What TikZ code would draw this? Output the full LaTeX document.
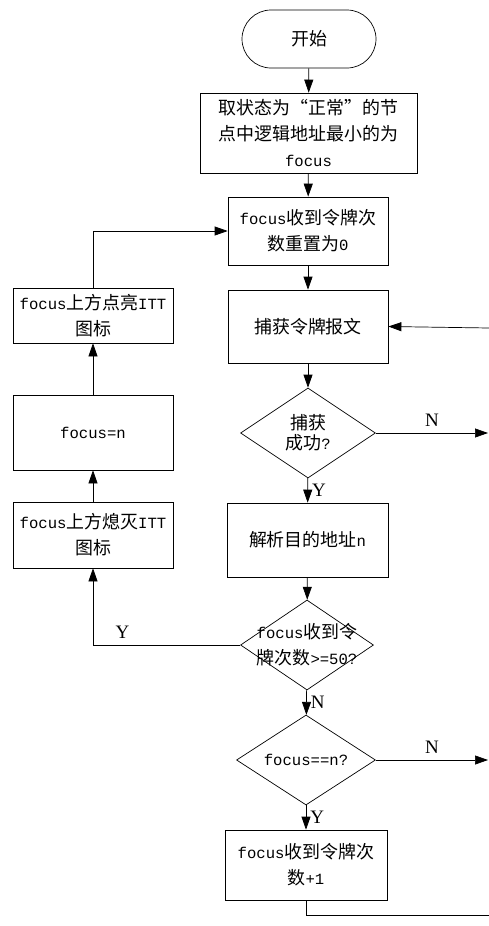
\documentclass[tikz,border=0pt]{standalone}
\usepackage{fontspec}
\setmainfont{Liberation Mono}
\newfontfamily\cjkf[Scale=1.15]{Noto Sans CJK SC}
\newfontfamily\lblf{Liberation Serif}
\newcommand{\zh}[1]{{\cjkf #1}}
\usetikzlibrary{shapes.geometric,arrows.meta}
\begin{document}
\begin{tikzpicture}[x=1pt,y=-1pt,
  font=\fontsize{15.6}{26}\selectfont,
  line width=0.7pt,
  box/.style={draw, rectangle, align=center, inner sep=0pt, minimum width=#1},
  box/.default=160pt,
  dia/.style={draw, diamond, inner sep=0pt, minimum width=#1, minimum height=90pt},
  dtext/.style={align=center, inner sep=0pt},
  arr/.style={-{Triangle[length=13pt,width=9pt]}},
  lbl/.style={font=\lblf\fontsize{19}{20}\selectfont, inner sep=0pt}
]
\useasboundingbox (0,0) rectangle (489,926);

% main column
\node[draw, rounded corners=29pt, minimum width=134pt, minimum height=58pt, inner sep=0pt] (start) at (309,39) {\zh{开始}};
\node[box=217pt, minimum height=80pt] (b2) at (308.5,133) {\zh{取状态为“正常”的节}\\\zh{点中逻辑地址最小的为}\\focus};
\node[box, minimum height=68pt] (b3) at (308,231) {focus\zh{收到令牌次}\\\zh{数重置为}0};
\node[box, minimum height=73pt] (b4) at (308,326.5) {\zh{捕获令牌报文}};
\node[dia=135pt] (d1) at (308,433) {};
\node[dtext] (d1t) at (d1) {\zh{捕获}\\[-6pt]\zh{成功}?};
\node[box=161pt, minimum height=74pt] (b5) at (307.5,540) {\zh{解析目的地址}n};
\node[dia=133pt] (d2) at (307,645) {};
\node[dtext] (d2t) at (d2) {focus\zh{收到令}\\\zh{牌次数}>=50?};
\node[dia=139pt] (d3) at (306,760) {};
\node[dtext] (d3t) at (d3) {focus==n?};
\node[box=162pt, minimum height=70pt] (b7) at (306,865) {focus\zh{收到令牌次}\\\zh{数}+1};

% left column
\node[box, minimum height=55pt] (l1) at (93,315.5) {focus\zh{上方点亮}ITT\\\zh{图标}};
\node[box, minimum height=75pt] (l2) at (93,432.5) {focus=n};
\node[box, minimum height=66pt] (l3) at (93,535) {focus\zh{上方熄灭}ITT\\\zh{图标}};

% free ends
\coordinate (inR) at (489,328);
\coordinate (n1) at (488,433);
\coordinate (n3) at (488,760);
\coordinate (bt) at (306,915);
\coordinate (btR) at (489,915);

% connectors
\draw[arr] (start) -- (b2);
\draw[arr] (b2) -- (b3);
\draw[arr] (b3) -- (b4);
\draw[arr] (b4) -- (d1);
\draw[arr] (d1) -- (b5) node[lbl, pos=0.5, right=4pt] (yl1) {Y};
\draw[arr] (d1.east) -- (n1) node[lbl, midway, above=6pt] (nl1) {N};
\draw[arr] (inR) -- (b4.east);
\draw[arr] (b5) -- (d2);
\draw[arr] (d2.west) -| (l3.south) node[lbl, pos=0.4, above=6pt] (yl2) {Y};
\draw[arr] (d2) -- (d3) node[lbl, pos=0.5, right=4pt] (nl2) {N};
\draw[arr] (d3.east) -- (n3) node[lbl, midway, above=6pt] (nl3) {N};
\draw[arr] (d3) -- (b7) node[lbl, pos=0.5, right=4pt] (yl3) {Y};
\draw (b7.south) -- (bt) -- (btR);
\draw[arr] (l3) -- (l2);
\draw[arr] (l2) -- (l1);
\draw[arr] (l1.north) |- (b3.west);
\end{tikzpicture}
\end{document}
